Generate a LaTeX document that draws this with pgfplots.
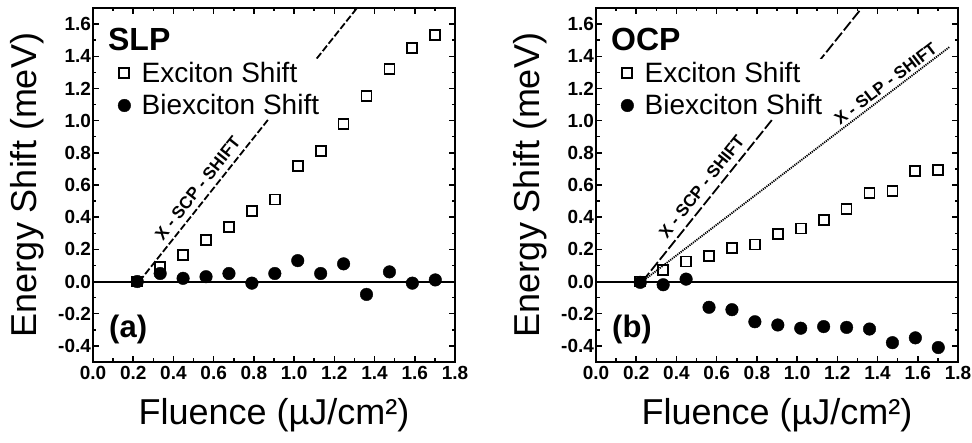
\documentclass[border=0pt]{standalone}
\usepackage{fontspec}
\setmainfont{Liberation Sans}
\usepackage{pgfplots}
\pgfplotsset{compat=1.18}

\pgfplotstableread{
x      ex     bx
0.220  0.000  0.000
0.334  0.090  0.050
0.448  0.166  0.020
0.562  0.260  0.030
0.676  0.340  0.050
0.790  0.440 -0.010
0.904  0.510  0.050
1.018  0.720  0.130
1.132  0.810  0.050
1.246  0.980  0.110
1.360  1.155 -0.080
1.474  1.320  0.060
1.588  1.450 -0.010
1.702  1.530  0.010
}\slp

\pgfplotstableread{
x      ex     bx
0.220  0.000 -0.005
0.334  0.070 -0.020
0.448  0.125  0.015
0.562  0.160 -0.160
0.676  0.210 -0.175
0.790  0.230 -0.250
0.904  0.295 -0.270
1.018  0.330 -0.290
1.132  0.380 -0.280
1.246  0.450 -0.285
1.360  0.550 -0.295
1.474  0.565 -0.380
1.588  0.685 -0.350
1.702  0.695 -0.410
}\ocp

\tikzset{lbl/.style={font=\bfseries\fontsize{17}{17}\selectfont, inner sep=0pt}}

\pgfplotsset{
  myaxis/.style={
    scale only axis, width=362pt, height=354pt,
    xmin=0, xmax=1.8, ymin=-0.5, ymax=1.7,
    xtick={0,0.2,0.4,0.6,0.8,1.0,1.2,1.4,1.6,1.8},
    ytick={-0.4,-0.2,0,0.2,0.4,0.6,0.8,1.0,1.2,1.4,1.6},
    minor tick num=1,
    tick align=inside,
    major tick length=6pt, minor tick length=3.5pt,
    every tick/.style={line width=1.5pt, black},
    axis line style={line width=2.2pt},
    /pgf/number format/assume math mode=true,
    /pgf/number format/fixed,
    /pgf/number format/fixed zerofill,
    /pgf/number format/precision=1,
    ticklabel style={font=\bfseries\fontsize{19}{19}\selectfont},
    yticklabel style={xshift=1.5pt},
    xticklabel style={yshift=-1pt},
    xlabel={Fluence (µJ/cm²)}, ylabel={Energy Shift (meV)},
    label style={font=\fontsize{36}{36}\selectfont},
    xlabel style={at={(axis description cs:0.5,-0.15)}, anchor=center},
    ylabel style={at={(axis description cs:-0.182,0.5)}, anchor=center, rotate=0},
    legend cell align=left,
    legend style={draw=none, fill=white, font=\fontsize{28}{28}\selectfont,
      at={(0.066,0.857)}, anchor=north west, row sep=7pt, column sep=9pt, inner sep=1pt},
  },
  exmark/.style={only marks, mark=square, mark size=5pt, mark options={line width=1.8pt, black, fill=white}},
  bxmark/.style={only marks, mark=*, mark size=6.3pt, mark options={black, fill=black}},
}

\begin{document}
\begin{tikzpicture}
\path[use as bounding box] (-93pt,-81pt) rectangle (879pt,362pt);

\begin{axis}[myaxis, at={(0pt,0pt)}, anchor=south west]
  \addplot[black, line width=1.8pt, dash pattern=on 7pt off 2.5pt, forget plot] coordinates {(0.23,0) (1.37,1.79)};
  \addplot[black, line width=2pt, forget plot] coordinates {(0,0) (1.8,0)};
  \addplot[exmark] table[x=x, y=ex] {\slp};
  \addlegendentry{Exciton Shift}
  \addplot[bxmark] table[x=x, y=bx] {\slp};
  \addlegendentry{Biexciton Shift}
  \node[rotate=51.5, lbl] at (axis cs:0.52,0.58) {X - SCP - SHIFT};
  \node[anchor=west, font=\bfseries\fontsize{32}{32}\selectfont] at (rel axis cs:0.032,0.91) {SLP};
  \node[anchor=west, font=\bfseries\fontsize{31}{31}\selectfont] at (rel axis cs:0.035,0.093) {(a)};
\end{axis}

\begin{axis}[myaxis, at={(503pt,0pt)}, anchor=south west]
  \addplot[black, line width=1.8pt, dash pattern=on 11pt off 3pt, forget plot] coordinates {(0.23,0) (1.36,1.76)};
  \addplot[black, line width=1.8pt, dash pattern=on 1.2pt off 1pt, forget plot] coordinates {(0.23,0) (1.76,1.46)};
  \addplot[black, line width=2pt, forget plot] coordinates {(0,0) (1.8,0)};
  \addplot[exmark] table[x=x, y=ex] {\ocp};
  \addlegendentry{Exciton Shift}
  \addplot[bxmark] table[x=x, y=bx] {\ocp};
  \addlegendentry{Biexciton Shift}
  \node[rotate=51.5, lbl] at (axis cs:0.525,0.59) {X - SCP - SHIFT};
  \node[rotate=37.4, lbl] at (axis cs:1.44,1.23) {X - SLP - SHIFT};
  \node[anchor=west, font=\bfseries\fontsize{32}{32}\selectfont] at (rel axis cs:0.032,0.91) {OCP};
  \node[anchor=west, font=\bfseries\fontsize{31}{31}\selectfont] at (rel axis cs:0.035,0.093) {(b)};
\end{axis}
\end{tikzpicture}
\end{document}
